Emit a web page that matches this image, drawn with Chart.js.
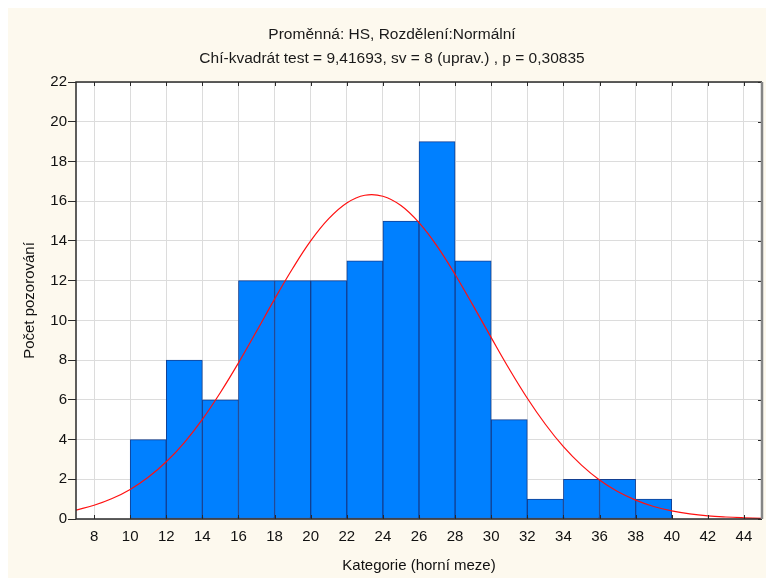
<!DOCTYPE html>
<html>
<head>
<meta charset="utf-8">
<script src="https://cdn.jsdelivr.net/npm/chart.js@4/dist/chart.umd.min.js"></script>
<style>
  html, body { margin: 0; padding: 0; background: #fff; }
  #wrap { width: 766px; height: 578px; }
</style>
</head>
<body>
<div id="wrap"><canvas id="chart" width="766" height="578"></canvas></div>
<script>
// class upper limits and counts
const binUpper = [12, 14, 16, 18, 20, 22, 24, 26, 28, 30, 32, 34, 36, 38, 40];
const counts   = [4, 8, 6, 12, 12, 12, 13, 15, 19, 13, 5, 1, 2, 2, 1];
const binWidth = 2;

// fitted normal curve (expected counts per class)
const curveX = [7, 8, 9, 10, 11, 12, 13, 14, 15, 16, 17, 18, 19, 20, 21, 22, 23, 24, 25, 26,
                27, 28, 29, 30, 31, 32, 33, 34, 35, 36, 37, 38, 39, 40, 41, 42, 43, 44, 45];
const curveY = [0.45, 0.69, 1.03, 1.49, 2.10, 2.88, 3.85, 5.02, 6.37, 7.86, 9.45, 11.07, 12.61,
                14.00, 15.12, 15.91, 16.30, 16.25, 15.78, 14.92, 13.74, 12.31, 10.74, 9.13, 7.55,
                6.08, 4.77, 3.64, 2.71, 1.96, 1.38, 0.95, 0.63, 0.41, 0.26, 0.16, 0.10, 0.06, 0.03];

const xTicks = [8, 10, 12, 14, 16, 18, 20, 22, 24, 26, 28, 30, 32, 34, 36, 38, 40, 42, 44];

const titleLines = [
  "Proměnná: HS, Rozdělení:Normální",
  "Chí-kvadrát test = 9,41693, sv = 8 (uprav.) , p = 0,30835"
];

const cream = "#fdf9ee";
const fontFamily = "'Liberation Sans', Arial, sans-serif";

const background = {
  id: "background",
  beforeDraw(chart) {
    const ctx = chart.ctx;
    ctx.save();
    ctx.fillStyle = "#ffffff";
    ctx.fillRect(0, 0, chart.width, chart.height);
    ctx.fillStyle = cream;
    ctx.fillRect(8, 8, chart.width - 8, chart.height - 8);
    const a = chart.chartArea;
    ctx.fillStyle = "#ffffff";
    ctx.fillRect(a.left, a.top, a.right - a.left, a.bottom - a.top);
    ctx.restore();
  }
};

// two title lines above the plot
const titles = {
  id: "titles",
  afterDraw(chart) {
    const ctx = chart.ctx;
    ctx.save();
    ctx.fillStyle = "#1a1a1a";
    ctx.font = "15.5px " + fontFamily;
    ctx.textAlign = "center";
    ctx.textBaseline = "middle";
    ctx.fillText(titleLines[0], 392, 34.5);
    ctx.fillText(titleLines[1], 392, 59);
    ctx.restore();
  }
};

// frame around the plot plus the small inward ticks
const frame = {
  id: "frame",
  afterDraw(chart) {
    const ctx = chart.ctx;
    const a = chart.chartArea;
    const xs = chart.scales.x, ys = chart.scales.y;
    ctx.save();
    ctx.strokeStyle = "#2a2a2a";
    ctx.lineWidth = 1;
    xTicks.forEach(v => {
      const px = Math.round(xs.getPixelForValue(v)) + 0.5;
      ctx.beginPath();
      ctx.moveTo(px, a.top); ctx.lineTo(px, a.top + 4);
      ctx.moveTo(px, a.bottom); ctx.lineTo(px, a.bottom - 4);
      ctx.stroke();
    });
    ys.ticks.forEach(t => {
      const py = Math.round(ys.getPixelForValue(t.value)) + 0.5;
      ctx.beginPath();
      ctx.moveTo(a.right, py); ctx.lineTo(a.right - 4, py);
      ctx.stroke();
    });
    ctx.lineWidth = 1.5;
    ctx.beginPath();
    ctx.moveTo(a.left, a.bottom);
    ctx.lineTo(a.left, a.top);
    ctx.lineTo(a.right, a.top);
    ctx.moveTo(a.left, a.bottom);
    ctx.lineTo(a.right, a.bottom);
    ctx.stroke();
    ctx.strokeStyle = "#858585";
    ctx.lineWidth = 2.5;
    ctx.beginPath();
    ctx.moveTo(a.right, a.top);
    ctx.lineTo(a.right, a.bottom);
    ctx.stroke();
    ctx.restore();
  }
};

const bars = binUpper.map((u, i) => ({ x: u - binWidth / 2, y: counts[i] }));
const curve = curveX.map((x, i) => ({ x: x, y: curveY[i] }));

new Chart(document.getElementById("chart"), {
  type: "bar",
  data: {
    datasets: [
      {
        type: "line",
        data: curve,
        borderColor: "#ff1010",
        borderWidth: 1.2,
        pointRadius: 0,
        tension: 0.4,
        order: 0
      },
      {
        type: "bar",
        data: bars,
        backgroundColor: "#0080ff",
        borderColor: "#123f92",
        borderWidth: 1,
        borderSkipped: false,
        barPercentage: 1,
        categoryPercentage: 1,
        order: 1
      }
    ]
  },
  options: {
    responsive: false,
    animation: false,
    layout: { padding: { left: 8, top: 82, right: 4, bottom: 0 } },
    plugins: {
      legend: { display: false },
      tooltip: { enabled: false },
      title: { display: false }
    },
    scales: {
      x: {
        type: "linear",
        min: 7,
        max: 45,
        offset: false,
        afterBuildTicks: axis => { axis.ticks = xTicks.map(v => ({ value: v })); },
        afterFit: axis => { axis.height = 59; },
        grid: { color: "#dcdcdc", drawTicks: false, offset: false },
        border: { display: false },
        ticks: {
          color: "#111",
          padding: 9,
          maxRotation: 0,
          autoSkip: false,
          font: { family: fontFamily, size: 15 }
        },
        title: {
          display: true,
          text: "Kategorie (horní meze)",
          color: "#111",
          font: { family: fontFamily, size: 15 },
          padding: { top: 0, bottom: 3 }
        }
      },
      y: {
        min: 0,
        max: 22,
        ticks: {
          stepSize: 2,
          color: "#111",
          padding: 1,
          font: { family: fontFamily, size: 15 }
        },
        afterFit: axis => { axis.width = 68; },
        grid: { color: "#dcdcdc", tickColor: "#2a2a2a", tickLength: 8 },
        border: { display: false },
        title: {
          display: true,
          text: "Počet pozorování",
          color: "#111",
          font: { family: fontFamily, size: 15 },
          padding: { top: 13, bottom: 0 }
        }
      }
    }
  },
  plugins: [background, titles, frame]
});
</script>
</body>
</html>
